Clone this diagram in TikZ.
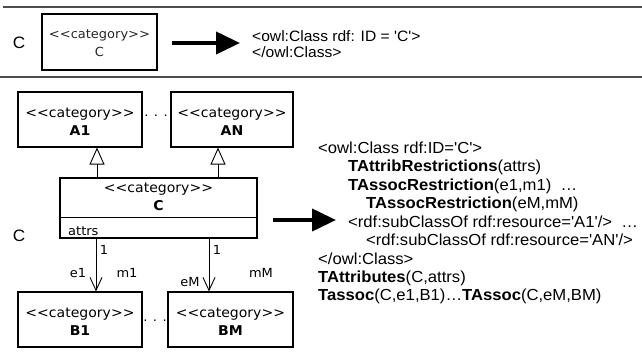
\documentclass[tikz,border=0pt]{standalone}
\usepackage{fontspec}
\setmainfont{Liberation Sans}[Ligatures=TeXOff,FakeStretch=1.04]
\newfontfamily\umlfont{DejaVu Sans}[FakeStretch=1.04]
\usetikzlibrary{arrows.meta}
\begin{document}
\begin{tikzpicture}[x=1pt,y=-1pt,
  umlbox/.style={draw,line width=1.1pt,inner sep=0pt},
  umltext/.style={align=center,inner sep=0pt,font=\umlfont\fontsize{13.5}{18}\selectfont},
  sepline/.style={draw=black!70,line width=1.6pt},
  gen/.style={line width=0.9pt,-{Triangle[open,length=17pt,width=15pt,line width=0.9pt]}},
  assoc/.style={line width=0.9pt,-{Straight Barb[length=13pt,width=12pt,line width=0.9pt]}},
  bigarrow/.style={line width=4pt,-{Triangle[length=24pt,width=22pt]}},
  owl/.style={anchor=base west,inner sep=0pt,font=\fontsize{16}{18}\selectfont},
  lbl/.style={inner sep=0pt,font=\umlfont\fontsize{12.5}{14}\selectfont},
  rowlbl/.style={inner sep=0pt,font=\fontsize{16.5}{18}\selectfont}]
\useasboundingbox (0,0) rectangle (642,362);
% separator lines
\coordinate (s1a) at (3,7); \coordinate (s1b) at (642,7);
\coordinate (s2a) at (0,77); \coordinate (s2b) at (642,77);
\draw[sepline] (s1a) -- (s1b);
\draw[sepline] (s2a) -- (s2b);
% ---- top row
\node[rowlbl] (c1) at (19,43) {C};
\node[umlbox,minimum width=115pt,minimum height=56pt] (box1) at (99.5,42) {};
\node[umltext,font=\umlfont\fontsize{12.5}{17.5}\selectfont,text=black!85] (box1t) at ([yshift=-1pt]box1.center) {<<category>>\\C};
\node[owl,font=\fontsize{15}{18}\selectfont] (t1) at (252,41) {<owl:Class rdf: ID = 'C'>};
\node[owl,font=\fontsize{15}{18}\selectfont] (t2) at (252,57) {</owl:Class>};
\coordinate (a1s) at (172,43); \coordinate (a1e) at (240,43);
\draw[bigarrow] (a1s) -- (a1e);
% ---- bottom row
\node[rowlbl] (c2) at (19,236) {C};
\node[umlbox,minimum width=124pt,minimum height=55pt] (A1) at (80,119.5) {};
\node[umltext] (A1t) at ([yshift=-2.5pt]A1.center) {<<category>>\\\textbf{A1}};
\node[umlbox,minimum width=122pt,minimum height=55pt] (AN) at (232,119.5) {};
\node[umltext] (ANt) at ([yshift=-2.5pt]AN.center) {<<category>>\\\textbf{AN}};
\node[lbl] (d1) at (156,116) {. . .};
\node[umlbox,minimum width=197pt,minimum height=60pt] (C) at (158.5,208) {};
\node[umltext] (Ct) at (158.5,197) {<<category>>\\\textbf{C}};
\coordinate (sepL) at (60,217); \coordinate (sepR) at (257,217);
\draw[line width=0.9pt] (sepL) -- (sepR);
\node[lbl,anchor=base west] (attrs) at (68,235) {attrs};
\node[umlbox,minimum width=124pt,minimum height=55pt] (B1) at (80,319.5) {};
\node[umltext] (B1t) at ([yshift=-2.5pt]B1.center) {<<category>>\\\textbf{B1}};
\node[umlbox,minimum width=125pt,minimum height=55pt] (BM) at (230.5,319.5) {};
\node[umltext] (BMt) at ([yshift=-2.5pt]BM.center) {<<category>>\\\textbf{BM}};
\node[lbl] (d2) at (155,321) {. . .};
% generalisations
\coordinate (gx1) at (97,0); \coordinate (gx2) at (218,0);
\draw[gen] (C.north -| gx1) -- (A1.south -| gx1);
\draw[gen] (C.north -| gx2) -- (AN.south -| gx2);
% associations
\coordinate (ax1) at (96,0); \coordinate (ax2) at (209,0);
\draw[assoc] (C.south -| ax1) -- (B1.north -| ax1);
\draw[assoc] (C.south -| ax2) -- (BM.north -| ax2);
\node[lbl] (one1) at (104,250) {1};
\node[lbl] (one2) at (217,250) {1};
\node[lbl] (e1) at (78,273) {e1};
\node[lbl] (m1) at (127,273) {m1};
\node[lbl] (eM) at (190,282) {eM};
\node[lbl] (mM) at (261,273) {mM};
% big arrow
\coordinate (a2s) at (273,220); \coordinate (a2e) at (336,220);
\draw[bigarrow] (a2s) -- (a2e);
% OWL text
\node[owl] (l1) at (318,153) {<owl:Class rdf:ID='C'>};
\node[owl] (l2) at (348,171.5) {\textbf{TAttribRestrictions}(attrs)};
\node[owl] (l3) at (348,190) {\textbf{TAssocRestriction}(e1,m1) \ …};
\node[owl] (l4) at (366,208.5) {\textbf{TAssocRestriction}(eM,mM)};
\node[owl] (l5) at (348,227) {<rdf:subClassOf rdf:resource='A1'/> \ …};
\node[owl] (l6) at (366,245.5) {<rdf:subClassOf rdf:resource='AN'/>};
\node[owl] (l7) at (318,264) {</owl:Class>};
\node[owl] (l8) at (318,282) {\textbf{TAttributes}(C,attrs)};
\node[owl] (l9) at (318,300) {\textbf{Tassoc}(C,e1,B1)…\textbf{TAssoc}(C,eM,BM)};
\end{tikzpicture}
\end{document}
